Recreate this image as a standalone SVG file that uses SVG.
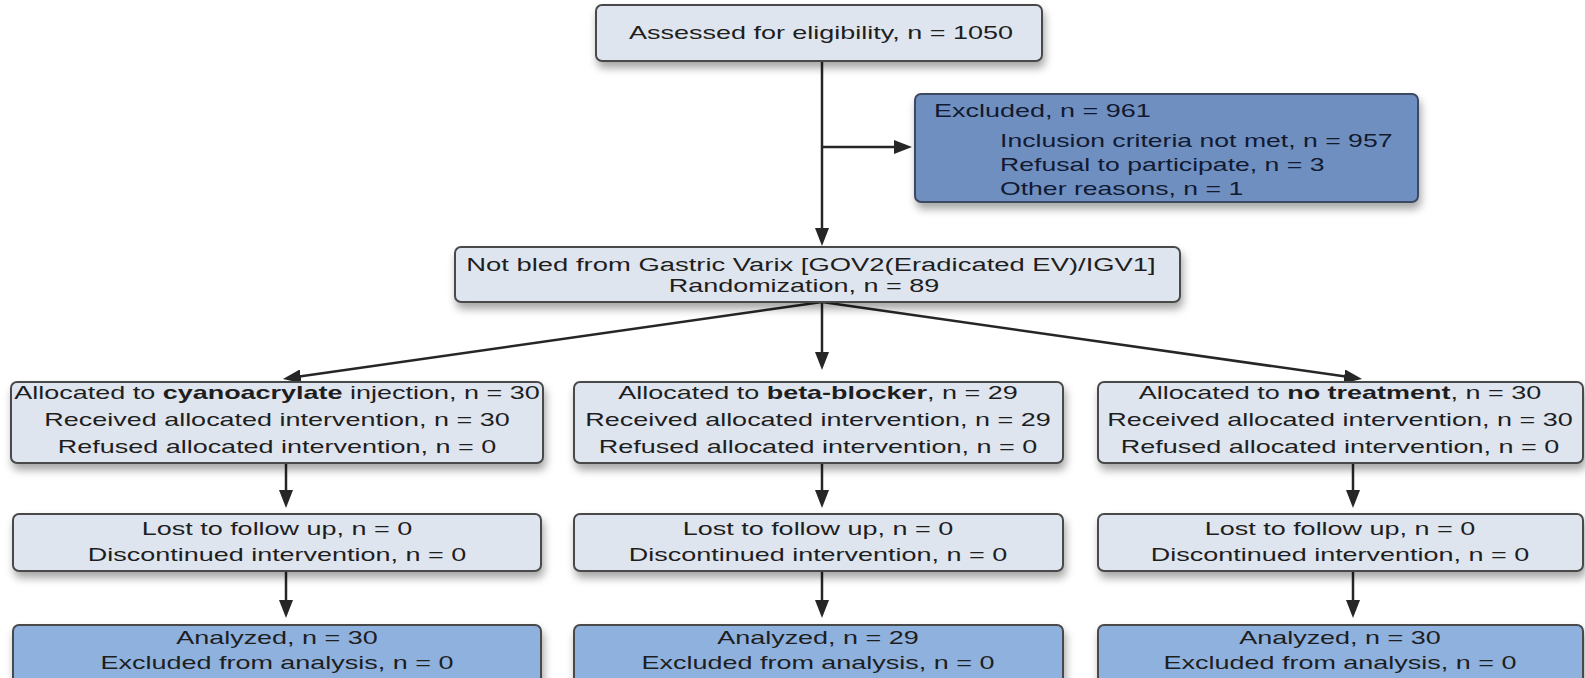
<svg xmlns="http://www.w3.org/2000/svg" width="1585" height="678" viewBox="0 0 1585 678">
<defs>
<style>
.box{fill:#dfe5ef;stroke:#4a4a4a;stroke-width:2}
.ex{fill:#6f8fc1;stroke:#3e4a60;stroke-width:2}
.an{fill:#8fb1de;stroke:#4a4a4a;stroke-width:2}
.t{font-family:"Liberation Sans",Arial,sans-serif;font-size:19px;fill:#1e1e1e;text-anchor:middle}
.tl{font-family:"Liberation Sans",Arial,sans-serif;font-size:19px;fill:#111a30;text-anchor:start}
.b{font-weight:bold}
.c{fill:none;stroke:#262626;stroke-width:2.5}
</style>
<filter id="sh" x="-5%" y="-20%" width="110%" height="150%">
<feDropShadow dx="2" dy="6" stdDeviation="4" flood-color="#000" flood-opacity="0.35"/>
</filter>
<marker id="ah" viewBox="0 0 18 14" refX="12" refY="7" markerWidth="18" markerHeight="14" markerUnits="userSpaceOnUse" orient="auto">
<path d="M0,0 L18,7 L0,14 z" fill="#262626"/>
</marker>
</defs>
<rect width="1585" height="678" fill="#ffffff"/>

<g id="connectors">
<path class="c" d="M822,61 V240" marker-end="url(#ah)"/>
<path class="c" d="M822,147 H906" marker-end="url(#ah)"/>
<path class="c" d="M822,302 L288.9,378.1" marker-end="url(#ah)"/>
<path class="c" d="M822,302 V364" marker-end="url(#ah)"/>
<path class="c" d="M822,302 L1356.1,378.1" marker-end="url(#ah)"/>
<path class="c" d="M286,463 V502" marker-end="url(#ah)"/>
<path class="c" d="M286,571 V612" marker-end="url(#ah)"/>
<path class="c" d="M822,463 V502" marker-end="url(#ah)"/>
<path class="c" d="M822,571 V612" marker-end="url(#ah)"/>
<path class="c" d="M1353,463 V502" marker-end="url(#ah)"/>
<path class="c" d="M1353,571 V612" marker-end="url(#ah)"/>
</g>

<g id="assessed">
<rect class="box" x="596" y="5" width="446" height="56" rx="6" filter="url(#sh)"/>
<text class="t" transform="matrix(1.42 0 0 1 821 39)">Assessed for eligibility, n = 1050</text>
</g>

<g id="excluded">
<rect class="ex" x="915" y="94" width="503" height="108" rx="6" filter="url(#sh)"/>
<text class="tl" transform="matrix(1.42 0 0 1 934 117)">Excluded, n = 961</text>
<text class="tl" transform="matrix(1.40 0 0 1 1000 147)">Inclusion criteria not met, n = 957</text>
<text class="tl" transform="matrix(1.40 0 0 1 1000 171)">Refusal to participate, n = 3</text>
<text class="tl" transform="matrix(1.40 0 0 1 1000 195)">Other reasons, n = 1</text>
</g>

<g id="randomization">
<rect class="box" x="455" y="247" width="725" height="55" rx="6" filter="url(#sh)"/>
<text class="t" transform="matrix(1.443 0 0 1 811 271)">Not bled from Gastric Varix [GOV2(Eradicated EV)/IGV1]</text>
<text class="t" transform="matrix(1.42 0 0 1 804 292)">Randomization, n = 89</text>
</g>

<g id="alloc-cyano">
<rect class="box" x="11" y="382" width="532" height="81" rx="6" filter="url(#sh)"/>
<text class="t" transform="matrix(1.42 0 0 1 277 399)">Allocated to <tspan class="b">cyanoacrylate</tspan> injection, n = 30</text>
<text class="t" transform="matrix(1.42 0 0 1 277 426)">Received allocated intervention, n = 30</text>
<text class="t" transform="matrix(1.42 0 0 1 277 453)">Refused allocated intervention, n = 0</text>
</g>

<g id="alloc-beta">
<rect class="box" x="574" y="382" width="489" height="81" rx="6" filter="url(#sh)"/>
<text class="t" transform="matrix(1.42 0 0 1 818 399)">Allocated to <tspan class="b">beta-blocker</tspan>, n = 29</text>
<text class="t" transform="matrix(1.42 0 0 1 818 426)">Received allocated intervention, n = 29</text>
<text class="t" transform="matrix(1.42 0 0 1 818 453)">Refused allocated intervention, n = 0</text>
</g>

<g id="alloc-none">
<rect class="box" x="1098" y="382" width="485" height="81" rx="6" filter="url(#sh)"/>
<text class="t" transform="matrix(1.42 0 0 1 1340 399)">Allocated to <tspan class="b">no treatment</tspan>, n = 30</text>
<text class="t" transform="matrix(1.42 0 0 1 1340 426)">Received allocated intervention, n = 30</text>
<text class="t" transform="matrix(1.42 0 0 1 1340 453)">Refused allocated intervention, n = 0</text>
</g>

<g id="follow-cyano">
<rect class="box" x="13" y="514" width="528" height="57" rx="6" filter="url(#sh)"/>
<text class="t" transform="matrix(1.42 0 0 1 277 535)">Lost to follow up, n = 0</text>
<text class="t" transform="matrix(1.42 0 0 1 277 561)">Discontinued intervention, n = 0</text>
</g>

<g id="follow-beta">
<rect class="box" x="574" y="514" width="489" height="57" rx="6" filter="url(#sh)"/>
<text class="t" transform="matrix(1.42 0 0 1 818 535)">Lost to follow up, n = 0</text>
<text class="t" transform="matrix(1.42 0 0 1 818 561)">Discontinued intervention, n = 0</text>
</g>

<g id="follow-none">
<rect class="box" x="1098" y="514" width="485" height="57" rx="6" filter="url(#sh)"/>
<text class="t" transform="matrix(1.42 0 0 1 1340 535)">Lost to follow up, n = 0</text>
<text class="t" transform="matrix(1.42 0 0 1 1340 561)">Discontinued intervention, n = 0</text>
</g>

<g id="analysis-cyano">
<rect class="an" x="13" y="625" width="528" height="62" rx="6" filter="url(#sh)"/>
<text class="t" transform="matrix(1.42 0 0 1 277 644)">Analyzed, n = 30</text>
<text class="t" transform="matrix(1.42 0 0 1 277 669)">Excluded from analysis, n = 0</text>
</g>

<g id="analysis-beta">
<rect class="an" x="574" y="625" width="489" height="62" rx="6" filter="url(#sh)"/>
<text class="t" transform="matrix(1.42 0 0 1 818 644)">Analyzed, n = 29</text>
<text class="t" transform="matrix(1.42 0 0 1 818 669)">Excluded from analysis, n = 0</text>
</g>

<g id="analysis-none">
<rect class="an" x="1098" y="625" width="485" height="62" rx="6" filter="url(#sh)"/>
<text class="t" transform="matrix(1.42 0 0 1 1340 644)">Analyzed, n = 30</text>
<text class="t" transform="matrix(1.42 0 0 1 1340 669)">Excluded from analysis, n = 0</text>
</g>
</svg>
